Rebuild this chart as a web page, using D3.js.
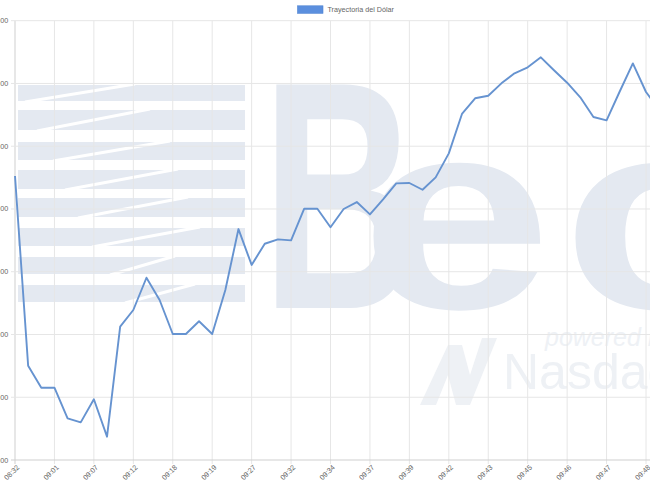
<!DOCTYPE html>
<html>
<head>
<meta charset="utf-8">
<script src="https://cdn.jsdelivr.net/npm/d3@7"></script>
<style>
  html, body { margin: 0; padding: 0; background: #fff; overflow: hidden; }
  svg { display: block; }
  text { font-family: "Liberation Sans", Arial, Helvetica, sans-serif; }
</style>
</head>
<body>
<div id="chart"></div>
<script>
// Trayectoria del Dólar - one point per trade, labels every 3rd point
let times = [
  "08:32", "08:45", "09:00", "09:01", "09:03", "09:05", "09:07", "09:09", "09:11", "09:12",
  "09:14", "09:16", "09:18", "09:18", "09:19", "09:19", "09:22", "09:25", "09:27", "09:29",
  "09:31", "09:32", "09:33", "09:34", "09:34", "09:35", "09:36", "09:37", "09:38", "09:39",
  "09:39", "09:40", "09:41", "09:42", "09:42", "09:43", "09:43", "09:44", "09:44", "09:45",
  "09:45", "09:46", "09:46", "09:46", "09:47", "09:47", "09:47", "09:48", "09:48", "09:48"
]
let prices = [
  3447.63, 3432.51, 3430.76, 3430.76, 3428.32, 3428.00, 3429.84, 3426.86, 3435.62, 3436.95,
  3439.52, 3437.75, 3435.04, 3435.04, 3436.05, 3435.04, 3438.54, 3443.40, 3440.54, 3442.23,
  3442.58, 3442.50, 3445.02, 3445.02, 3443.54, 3445.00, 3445.55, 3444.57, 3445.77, 3447.04,
  3447.07, 3446.53, 3447.52, 3449.43, 3452.57, 3453.82, 3454.02, 3455.01, 3455.81, 3456.29,
  3457.08, 3456.05, 3455.06, 3453.90, 3452.33, 3452.06, 3454.36, 3456.60, 3454.32, 3452.88
]
let y_ticks = [3425, 3430, 3435, 3440, 3445, 3450, 3455, 3460]
let series_name = "Trayectoria del Dólar"

let width = 650,
    height = 487,
    plot_left = 15,
    plot_top = 20.7,
    plot_bottom = 460,
    step = 13.146

let line_color = "#6693d0",
    grid_color = "#e6e6e6",
    axis_color = "#cfcfcf",
    mark_color = "#e4e9f1"

let x = d3.scalePoint()
    .domain(d3.range(prices.length))
    .range([plot_left, plot_left + step * (prices.length - 1)])

let y = d3.scaleLinear()
    .domain([d3.min(y_ticks), d3.max(y_ticks)])
    .range([plot_bottom, plot_top])

let svg = d3.select("#chart").append("svg")
    .attr("width", width)
    .attr("height", height)

// background watermark (logo of the exchange)
let wm = svg.append("g").attr("class", "watermark")

let bars = [
  [85, 101, 25, 135], [110, 130, 37, 150], [142, 160, 53, 170], [170, 189, 65, 178],
  [198, 217, 78, 188], [228, 246, 92, 200], [257, 274, 110, 175], [285, 302, 125, 195]
]
bars.forEach(function(b) {
  wm.append("rect")
      .attr("x", 18).attr("y", b[0])
      .attr("width", 227).attr("height", b[1] - b[0])
      .attr("fill", mark_color)
  wm.append("line")
      .attr("x1", b[2]).attr("y1", b[1] + 1)
      .attr("x2", b[3]).attr("y2", b[0] - 1)
      .attr("stroke", "#fff")
      .attr("stroke-width", 3)
})

wm.append("text")
    .attr("transform", "translate(262,308) scale(0.66,1)")
    .attr("font-size", 325)
    .attr("font-weight", "bold")
    .attr("fill", mark_color)
    .text("B")
wm.append("text")
    .attr("transform", "translate(360,308) scale(1.15,0.9)")
    .attr("font-size", 300)
    .attr("font-weight", "bold")
    .attr("fill", mark_color)
    .text("e")
wm.append("text")
    .attr("transform", "translate(562,308) scale(1.15,0.9)")
    .attr("font-size", 300)
    .attr("font-weight", "bold")
    .attr("fill", mark_color)
    .text("c")
wm.append("text")
    .attr("x", 545).attr("y", 346)
    .attr("font-size", 25)
    .attr("font-style", "italic")
    .attr("fill", "#eef1f5")
    .text("powered by")
wm.append("text")
    .attr("x", 503).attr("y", 389)
    .attr("font-size", 50)
    .attr("fill", "#eef1f5")
    .text("Nasdaq")
wm.append("path")
    .attr("d", "M420,405 L448,345 L462,345 L470,375 L482,338 L497,338 L470,405 L456,405 L448,375 L436,405 Z")
    .attr("fill", "#eef1f5")

// grid
let ticks_x = x.domain().filter(function(i) { return i % 3 === 0 })

svg.append("g").selectAll("line")
    .data(ticks_x).enter()
    .append("line")
      .attr("x1", function(d) { return x(d) })
      .attr("x2", function(d) { return x(d) })
      .attr("y1", plot_top)
      .attr("y2", plot_bottom + 4)
      .attr("stroke", function(d) { return d === 0 ? axis_color : grid_color })
      .attr("stroke-width", 1)

svg.append("g").selectAll("line")
    .data(y_ticks).enter()
    .append("line")
      .attr("x1", plot_left - 4)
      .attr("x2", width)
      .attr("y1", function(d) { return y(d) })
      .attr("y2", function(d) { return y(d) })
      .attr("stroke", function(d) { return d === y_ticks[0] ? axis_color : grid_color })
      .attr("stroke-width", 1)

// y labels (cut by the frame on the left)
svg.append("g").selectAll("text")
    .data(y_ticks).enter()
    .append("text")
      .attr("x", 8.3)
      .attr("y", function(d) { return y(d) })
      .attr("dy", "0.35em")
      .attr("text-anchor", "end")
      .attr("font-size", 7.2)
      .attr("fill", "#666")
      .text(function(d) { return d3.format(",.2f")(d) })

// x labels
svg.append("g").selectAll("text")
    .data(ticks_x).enter()
    .append("text")
      .attr("transform", function(d) { return "translate(" + (x(d) + 3) + "," + (plot_bottom + 6) + ") rotate(-45)" })
      .attr("dy", "0.35em")
      .attr("text-anchor", "end")
      .attr("font-size", 7.2)
      .attr("fill", "#666")
      .text(function(d) { return times[d] })

// line
let line = d3.line()
    .x(function(d, i) { return x(i) })
    .y(function(d) { return y(d) })

svg.append("path")
    .datum(prices)
    .attr("d", line)
    .attr("fill", "none")
    .attr("stroke", line_color)
    .attr("stroke-width", 1.9)
    .attr("stroke-linejoin", "round")

// legend
svg.append("rect")
    .attr("x", 297.5).attr("y", 5.8)
    .attr("width", 25.5).attr("height", 7.5)
    .attr("fill", "#5b8fde")
    .attr("stroke", "#4f84d2")
    .attr("stroke-width", 0.6)
svg.append("text")
    .attr("x", 327.5).attr("y", 12.3)
    .attr("font-size", 7.2)
    .attr("fill", "#666")
    .text(series_name)
</script>
</body>
</html>
